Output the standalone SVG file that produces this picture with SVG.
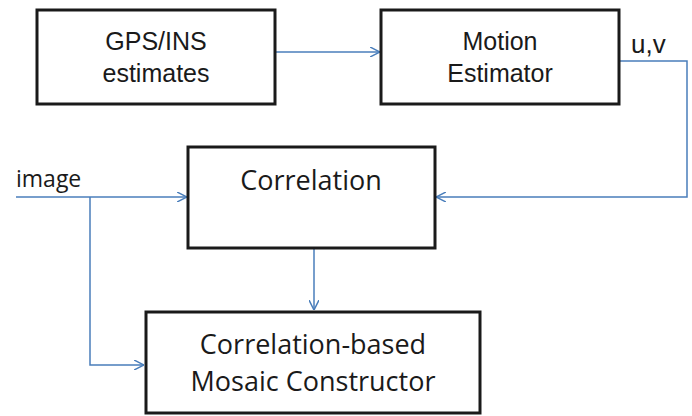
<svg xmlns="http://www.w3.org/2000/svg" width="692" height="416" viewBox="0 0 692 416">
<style>
.box{fill:#fff;stroke:#1a1a1a;stroke-width:3}
.a{font-family:"Liberation Sans",Arial,sans-serif;font-size:25px;fill:#1a1a1a;text-anchor:middle}
.c{font-family:"Open Sans",sans-serif;font-size:27px;fill:#1a1a1a;text-anchor:middle}
.lbl{font-family:"Open Sans",sans-serif;font-size:23px;fill:#1a1a1a}
.lblA{font-family:"Liberation Sans",Arial,sans-serif;font-size:26px;fill:#1a1a1a}
.ln{fill:none;stroke:#4a7ebb;stroke-width:1.5}
</style>
<defs>
<marker id="ah" viewBox="0 0 10 10" refX="10" refY="5" markerWidth="10" markerHeight="10" markerUnits="userSpaceOnUse" orient="auto">
<path d="M0,0 L10,5 L0,10" fill="none" stroke="#4a7ebb" stroke-width="1.5"/>
</marker>
</defs>
<g id="connectors">
<path class="ln" d="M275,52 H380" marker-end="url(#ah)"/>
<path class="ln" d="M619,61 H687 V197 H436" marker-end="url(#ah)"/>
<path class="ln" d="M16,197 H187" marker-end="url(#ah)"/>
<path class="ln" d="M90,197 V365 H144" marker-end="url(#ah)"/>
<path class="ln" d="M314,248 V310" marker-end="url(#ah)"/>
</g>
<g id="gps">
<rect class="box" x="37" y="10" width="238" height="94"/>
<text class="a" x="156" y="50">GPS/INS</text>
<text class="a" x="156" y="82">estimates</text>
</g>
<g id="motion">
<rect class="box" x="381" y="10" width="238" height="94"/>
<text class="a" x="500" y="50">Motion</text>
<text class="a" x="500" y="82">Estimator</text>
</g>
<g id="uv-label">
<text class="lblA" x="631" y="53">u,v</text>
</g>
<g id="image-label">
<text class="lbl" x="16" y="187">image</text>
</g>
<g id="correlation">
<rect class="box" x="188" y="147" width="247" height="101"/>
<text class="c" x="311" y="190">Correlation</text>
</g>
<g id="mosaic">
<rect class="box" x="146" y="312" width="334" height="101"/>
<text class="c" x="313" y="354">Correlation-based</text>
<text class="c" x="313" y="391">Mosaic Constructor</text>
</g>
</svg>
